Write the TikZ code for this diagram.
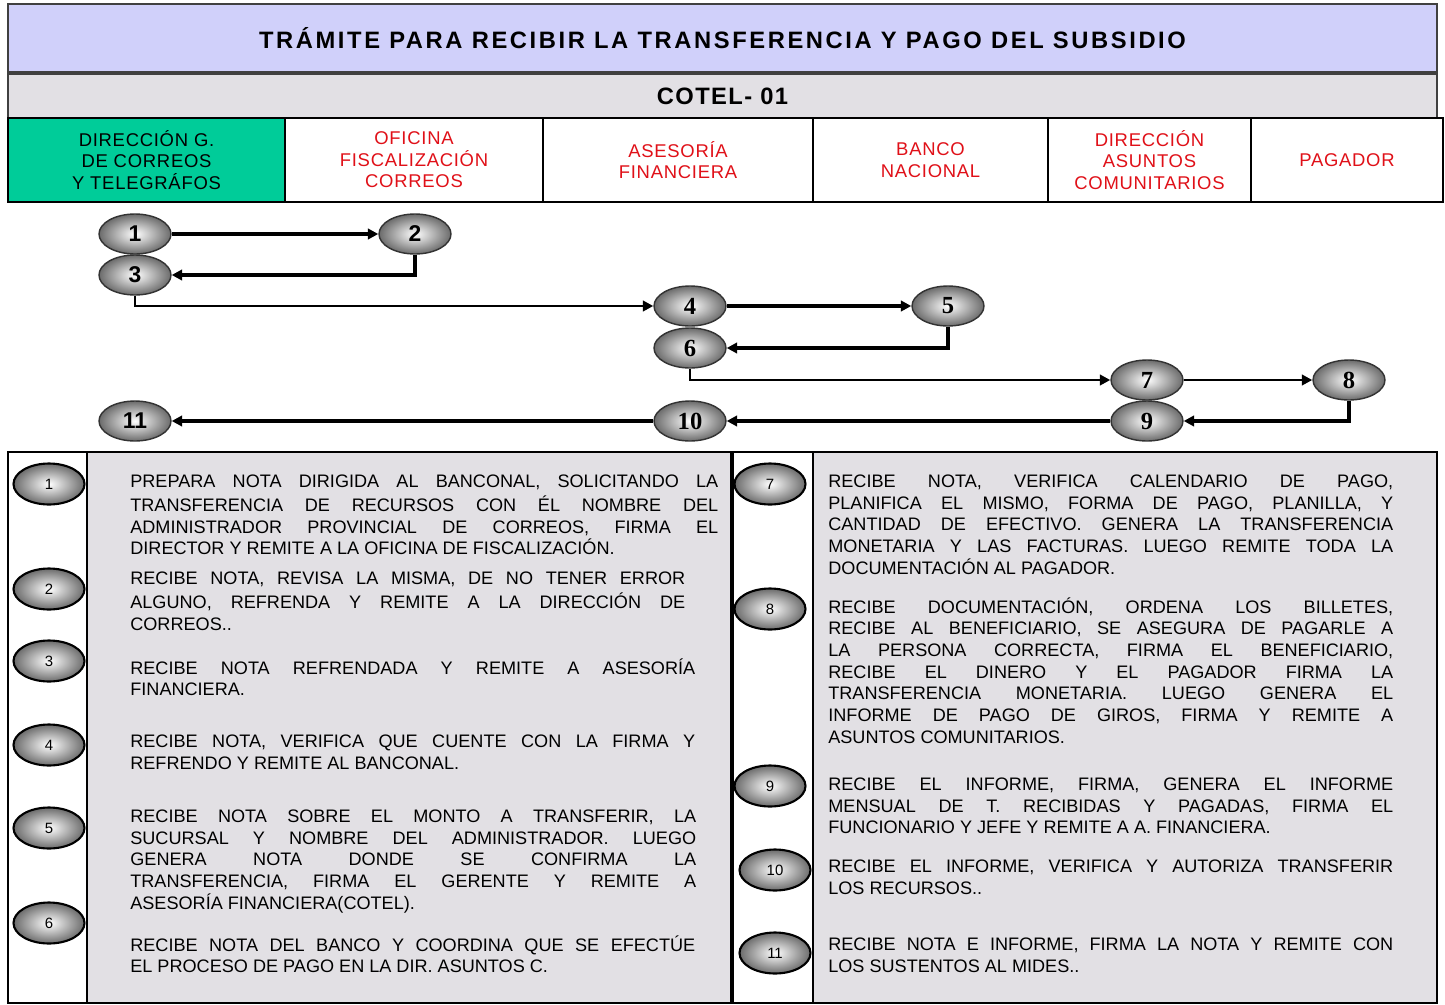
\documentclass[tikz,border=0pt]{standalone}
\usepackage{fontspec}
\setmainfont{Liberation Sans}
\newfontfamily\titlefont[LetterSpace=11]{Liberation Sans}
\newfontfamily\codefont[LetterSpace=6]{Liberation Sans}
\newfontfamily\capfont[LetterSpace=4]{Liberation Sans}
\newfontfamily\romfont{Liberation Serif}
\usetikzlibrary{positioning, arrows.meta, shapes.geometric}
\definecolor{tlav}{RGB}{208,208,250}
\definecolor{tgrey}{RGB}{226,224,228}
\definecolor{tgreen}{RGB}{0,204,153}
\definecolor{tred}{RGB}{224,16,24}

\begin{document}
\begin{tikzpicture}[x=0.02cm, y=-0.02cm,
    cell/.style={draw=black, line width=0.8pt, inner sep=0pt, outer sep=0pt, minimum height=1.68cm, align=center, font=\capfont\fontsize{10.5}{12.2}\selectfont},
    stepball/.style={ellipse, draw=black!80, thick, inner sep=0pt, minimum width=1.44cm, minimum height=0.8cm, inner color=white, outer color=black!58},
    stepsans/.style={stepball, font=\bfseries\fontsize{13}{13}\selectfont},
    stepserif/.style={stepball, font=\romfont\bfseries\fontsize{14}{14}\selectfont},
    tag/.style={ellipse, draw=black, line width=1.2pt, inner sep=0pt, minimum width=1.42cm, minimum height=0.82cm, inner color=white, outer color=black!58, font=\fontsize{8.5}{8.5}\selectfont},
    flow/.style={line width=2.2pt, -{Triangle[length=6pt, width=6pt]}},
    thinflow/.style={line width=1.5pt, -{Triangle[length=6pt, width=6pt]}},
    note/.style={anchor=north west, inner sep=0pt, align=justify, font=\fontsize{10.3}{12.35}\selectfont}]
    \useasboundingbox (0,0) rectangle (1445,1005);

    % title rows
    \node[cell, fill=tlav, draw=black!75, minimum width=28.58cm, minimum height=1.36cm, font=\titlefont\bfseries\fontsize{13.5}{14}\selectfont] (title) at (722.5,38) {TRÁMITE PARA RECIBIR LA TRANSFERENCIA Y PAGO DEL SUBSIDIO};
    \node[cell, fill=tgrey, draw=black!75, minimum width=28.58cm, minimum height=0.88cm, font=\codefont\bfseries\fontsize{13.5}{14}\selectfont] (code) at (722.5,96) {COTEL- 01};

    % lanes
    \node[cell, fill=tgreen, minimum width=5.54cm] (lane1) at (146.5,160) {DIRECCIÓN G.\\DE CORREOS\\Y TELEGRÁFOS};
    \node[cell, fill=white, text=tred, minimum width=5.16cm] (lane2) at (414,160) {OFICINA\\FISCALIZACIÓN\\CORREOS};
    \node[cell, fill=white, text=tred, minimum width=5.4cm] (lane3) at (678,160) {ASESORÍA\\FINANCIERA};
    \node[cell, fill=white, text=tred, minimum width=4.7cm] (lane4) at (930.5,160) {BANCO\\NACIONAL};
    \node[cell, fill=white, text=tred, minimum width=4.06cm] (lane5) at (1149.5,160) {DIRECCIÓN\\ASUNTOS\\COMUNITARIOS};
    \node[cell, fill=white, text=tred, minimum width=3.84cm] (lane6) at (1347,160) {PAGADOR};

    % flow steps
    \foreach \n/\x/\y/\f in {1/135/234/stepsans, 2/415/234/stepsans, 3/135/275/stepsans,
                            4/690/306/stepserif, 5/948/306/stepserif, 6/690/348/stepserif,
                            7/1147/380/stepserif, 8/1349/380/stepserif, 9/1147/421/stepserif,
                            10/690/421/stepserif, 11/135/421/stepsans}
    {
        \node[\f] (s\n) at (\x,\y) {\n};
    }

    % connectors
    \draw[flow] (s1) -- (s2);
    \draw[flow] (s2.south) |- (s3.east);
    \draw[thinflow] (s3.south) |- (s4.west);
    \draw[flow] (s4) -- (s5);
    \draw[flow] (s5.south) |- (s6.east);
    \draw[thinflow] (s6.south) |- (s7.west);
    \draw[thinflow] (s7) -- (s8);
    \draw[flow] (s8.south) |- (s9.east);
    \draw[flow] (s9) -- (s10);
    \draw[flow] (s10) -- (s11);

    % description panels
    \fill[tgrey] (87,452) rectangle (731,1003);
    \fill[tgrey] (813,452) rectangle (1437,1003);
    \draw[line width=0.8pt] (8,452) rectangle (731,1003) (87,452) -- (87,1003);
    \draw[line width=0.8pt] (733,452) rectangle (1437,1003) (813,452) -- (813,1003);

    \foreach \n/\x/\y in {1/49/484, 2/49/589, 3/49/661, 4/49/745, 5/49/828, 6/49/923,
                          7/770/484, 8/770/609, 9/770/786, 10/775/870, 11/775/953}
    {
        \node[tag] (t\n) at (\x,\y) {\n};
    }

    % texts
    \node[note, text width=11.76cm] (d1) at (130,472) {\strut PREPARA NOTA DIRIGIDA AL BANCONAL, SOLICITANDO LA\linebreak TRANSFERENCIA DE RECURSOS CON ÉL NOMBRE DEL\linebreak ADMINISTRADOR PROVINCIAL DE CORREOS, FIRMA EL\linebreak DIRECTOR Y REMITE A LA OFICINA DE FISCALIZACIÓN.};
    \node[note, text width=11.1cm] (d2) at (130,569) {\strut RECIBE NOTA, REVISA LA MISMA, DE NO TENER ERROR\linebreak ALGUNO, REFRENDA Y REMITE A LA DIRECCIÓN DE\linebreak CORREOS..};
    \node[note, text width=11.3cm] (d3) at (130,658) {\strut RECIBE NOTA REFRENDADA Y REMITE A ASESORÍA\linebreak FINANCIERA.};
    \node[note, text width=11.3cm] (d4) at (130,732) {\strut RECIBE NOTA, VERIFICA QUE CUENTE CON LA FIRMA Y\linebreak REFRENDO Y REMITE AL BANCONAL.};
    \node[note, text width=11.32cm] (d5) at (130,807) {\strut RECIBE NOTA SOBRE EL MONTO A TRANSFERIR, LA\linebreak SUCURSAL Y NOMBRE DEL ADMINISTRADOR. LUEGO\linebreak GENERA NOTA DONDE SE CONFIRMA LA\linebreak TRANSFERENCIA, FIRMA EL GERENTE Y REMITE A\linebreak ASESORÍA FINANCIERA(COTEL).};
    \node[note, text width=11.3cm] (d6) at (130,935) {\strut RECIBE NOTA DEL BANCO Y COORDINA QUE SE EFECTÚE\linebreak EL PROCESO DE PAGO EN LA DIR. ASUNTOS C.};

    \node[note, text width=11.3cm] (d7) at (828,472) {\strut RECIBE NOTA, VERIFICA CALENDARIO DE PAGO,\linebreak PLANIFICA EL MISMO, FORMA DE PAGO, PLANILLA, Y\linebreak CANTIDAD DE EFECTIVO. GENERA LA TRANSFERENCIA\linebreak MONETARIA Y LAS FACTURAS. LUEGO REMITE TODA LA\linebreak DOCUMENTACIÓN AL PAGADOR.};
    \node[note, text width=11.3cm] (d8) at (828,597) {\strut RECIBE DOCUMENTACIÓN, ORDENA LOS BILLETES,\linebreak RECIBE AL BENEFICIARIO, SE ASEGURA DE PAGARLE A\linebreak LA PERSONA CORRECTA, FIRMA EL BENEFICIARIO,\linebreak RECIBE EL DINERO Y EL PAGADOR FIRMA LA\linebreak TRANSFERENCIA MONETARIA. LUEGO GENERA EL\linebreak INFORME DE PAGO DE GIROS, FIRMA Y REMITE A\linebreak ASUNTOS COMUNITARIOS.};
    \node[note, text width=11.3cm] (d9) at (828,775) {\strut RECIBE EL INFORME, FIRMA, GENERA EL INFORME\linebreak MENSUAL DE T. RECIBIDAS Y PAGADAS, FIRMA EL\linebreak FUNCIONARIO Y JEFE Y REMITE A A. FINANCIERA.};
    \node[note, text width=11.3cm] (d10) at (828,857) {\strut RECIBE EL INFORME, VERIFICA Y AUTORIZA TRANSFERIR\linebreak LOS RECURSOS..};
    \node[note, text width=11.3cm] (d11) at (828,935) {\strut RECIBE NOTA E INFORME, FIRMA LA NOTA Y REMITE CON\linebreak LOS SUSTENTOS AL MIDES..};
\end{tikzpicture}
\end{document}
